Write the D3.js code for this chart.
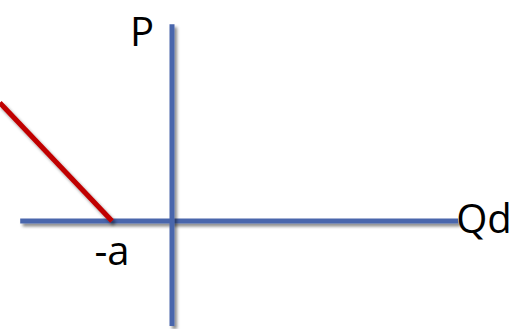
<!DOCTYPE html>
<html>
<head>
<meta charset="utf-8">
<script src="https://cdn.jsdelivr.net/npm/d3@7"></script>
<style>
  html, body { margin: 0; padding: 0; background: #ffffff; }
  svg { display: block; }
</style>
</head>
<body>
<svg id="chart" width="528" height="329"></svg>
<script>
// ---- data (abstract units, a = 1) ----
const qAxisExtent = [-2.53, 4.77];     // horizontal (Qd) axis span
const pAxisExtent = [-1.75, 3.28];     // vertical (P) axis span
const demandQ = [-2.87, -1];           // demand line quantity values
const demandP = [1.97, 0];             // demand line price values
const axisLabels = ["P", "Qd"];
const pointLabels = ["-a"];
const pointLabelQ = [-1];

// ---- layout ----
const W = 528, H = 329;
const originX = 172, originY = 221, unit = 60;

const x = d3.scaleLinear().domain([0, 1]).range([originX, originX + unit]);
const y = d3.scaleLinear().domain([0, 1]).range([originY, originY - unit]);

const svg = d3.select("#chart");
const defs = svg.append("defs");
const f = defs.append("filter").attr("id", "shadow")
  .attr("filterUnits", "userSpaceOnUse")
  .attr("x", -20).attr("y", -20).attr("width", W + 40).attr("height", H + 40);
f.append("feDropShadow").attr("dx", 2.5).attr("dy", 3).attr("stdDeviation", 1.6)
  .attr("flood-color", "#000").attr("flood-opacity", 0.45);

const blue = "#4A66AC", red = "#C00000";

// horizontal axis
svg.append("line")
  .attr("x1", x(qAxisExtent[0])).attr("x2", x(qAxisExtent[1]))
  .attr("y1", y(0)).attr("y2", y(0))
  .attr("stroke", blue).attr("stroke-width", 5)
  .attr("filter", "url(#shadow)");

// vertical axis
svg.append("line")
  .attr("x1", x(0)).attr("x2", x(0))
  .attr("y1", y(pAxisExtent[1])).attr("y2", y(pAxisExtent[0]))
  .attr("stroke", blue).attr("stroke-width", 5)
  .attr("filter", "url(#shadow)");

// demand line
const pts = demandQ.map((q, i) => [q, demandP[i]]);
svg.append("path")
  .attr("d", d3.line().x(d => x(d[0])).y(d => y(d[1]))(pts))
  .attr("fill", "none").attr("stroke", red).attr("stroke-width", 5)
  .attr("filter", "url(#shadow)");

const font = "'Open Sans', sans-serif";

// P label
svg.append("text")
  .attr("x", x(0) - 30).attr("y", y(pAxisExtent[1]) + 22)
  .attr("text-anchor", "middle")
  .attr("font-family", font).attr("font-size", 40).attr("fill", "#000")
  .text(axisLabels[0]);

// Qd label
svg.append("text")
  .attr("x", x(qAxisExtent[1]) - 2).attr("y", y(0) + 12)
  .attr("text-anchor", "start")
  .attr("font-family", font).attr("font-size", 40).attr("fill", "#000")
  .text(axisLabels[1]);

// -a label
svg.selectAll("text.pt").data(pointLabels).enter().append("text")
  .attr("class", "pt")
  .attr("x", (d, i) => x(pointLabelQ[i]))
  .attr("y", y(0) + 44)
  .attr("text-anchor", "middle")
  .attr("font-family", font).attr("font-size", 40).attr("fill", "#000")
  .text(d => d);
</script>
</body>
</html>
